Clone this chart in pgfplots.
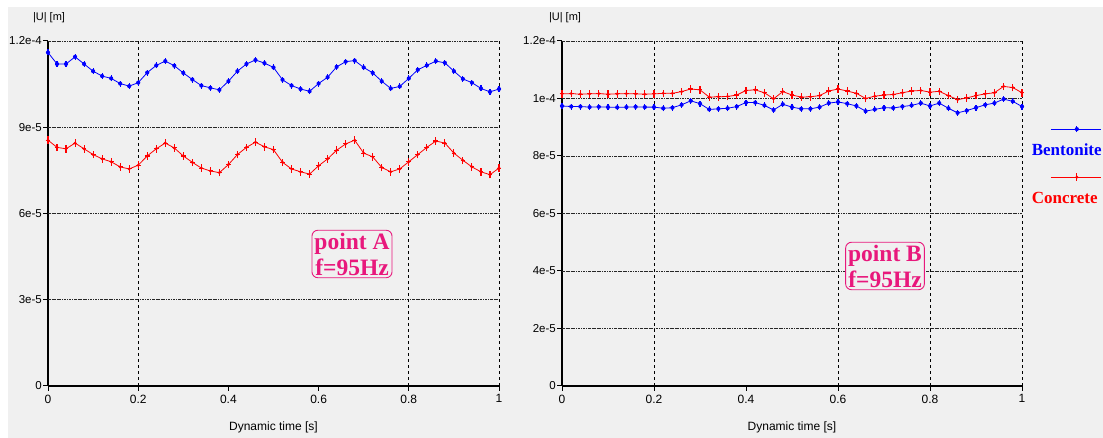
\documentclass[border=0pt]{standalone}
\usepackage{pgfplots}
\usepackage{pgfplotstable}
\pgfplotsset{compat=1.18}
\usepackage{fontspec}
\setmainfont{Liberation Sans}
\newfontfamily\lserif{Liberation Serif}
\definecolor{bgc}{RGB}{240,240,240}
\definecolor{pinkc}{RGB}{232,24,124}

\pgfdeclareplotmark{bmk}{%
  \pgfpathcircle{\pgfpointorigin}{2.1pt}\pgfusepathqfill
  \pgfsetlinewidth{1.1pt}%
  \pgfpathmoveto{\pgfpoint{0pt}{-3pt}}\pgfpathlineto{\pgfpoint{0pt}{3pt}}\pgfusepathqstroke}
\pgfdeclareplotmark{rmk}{%
  \pgfpathcircle{\pgfpointorigin}{1.6pt}\pgfusepathqfill
  \pgfsetlinewidth{1.1pt}%
  \pgfpathmoveto{\pgfpoint{0pt}{-3.8pt}}\pgfpathlineto{\pgfpoint{0pt}{3.8pt}}%
  \pgfpathmoveto{\pgfpoint{-2.4pt}{0pt}}\pgfpathlineto{\pgfpoint{2.4pt}{0pt}}\pgfusepathqstroke}

% values in units of 1e-5 m
\pgfplotstableread{
t b r
0.00 11.60 8.55
0.02 11.20 8.30
0.04 11.20 8.25
0.06 11.45 8.45
0.08 11.20 8.25
0.10 10.95 8.05
0.12 10.78 7.90
0.14 10.70 7.80
0.16 10.52 7.62
0.18 10.43 7.55
0.20 10.55 7.68
0.22 10.90 8.00
0.24 11.15 8.25
0.26 11.30 8.45
0.28 11.14 8.28
0.30 10.89 8.00
0.32 10.66 7.78
0.34 10.45 7.58
0.36 10.37 7.48
0.38 10.30 7.42
0.40 10.60 7.70
0.42 10.95 8.05
0.44 11.20 8.30
0.46 11.34 8.48
0.48 11.23 8.32
0.50 11.08 8.22
0.52 10.65 7.78
0.54 10.45 7.55
0.56 10.33 7.45
0.58 10.25 7.37
0.60 10.52 7.66
0.62 10.74 7.90
0.64 11.10 8.20
0.66 11.28 8.42
0.68 11.32 8.55
0.70 11.08 8.10
0.72 10.89 7.97
0.74 10.60 7.60
0.76 10.35 7.45
0.78 10.42 7.55
0.80 10.70 7.80
0.82 11.00 8.05
0.84 11.15 8.30
0.86 11.30 8.52
0.88 11.24 8.45
0.90 10.95 8.10
0.92 10.68 7.85
0.94 10.55 7.62
0.96 10.35 7.45
0.98 10.23 7.35
1.00 10.33 7.58
}\dataA

\pgfplotstableread{
t b r
0.00 9.74 10.16
0.02 9.72 10.17
0.04 9.72 10.15
0.06 9.70 10.16
0.08 9.71 10.17
0.10 9.70 10.15
0.12 9.69 10.16
0.14 9.70 10.17
0.16 9.71 10.16
0.18 9.70 10.15
0.20 9.70 10.16
0.22 9.66 10.18
0.24 9.68 10.18
0.26 9.78 10.24
0.28 9.92 10.33
0.30 9.82 10.30
0.32 9.62 10.05
0.34 9.64 10.06
0.36 9.66 10.07
0.38 9.72 10.12
0.40 9.86 10.28
0.42 9.86 10.30
0.44 9.76 10.20
0.46 9.60 9.99
0.48 9.80 10.24
0.50 9.70 10.12
0.52 9.64 10.05
0.54 9.64 10.06
0.56 9.70 10.10
0.58 9.84 10.26
0.60 9.88 10.33
0.62 9.82 10.26
0.64 9.74 10.18
0.66 9.56 10.00
0.68 9.62 10.08
0.70 9.68 10.12
0.72 9.67 10.14
0.74 9.72 10.20
0.76 9.76 10.26
0.78 9.84 10.28
0.80 9.74 10.22
0.82 9.84 10.25
0.84 9.66 10.10
0.86 9.50 9.96
0.88 9.58 10.02
0.90 9.68 10.10
0.92 9.78 10.16
0.94 9.84 10.20
0.96 9.98 10.42
0.98 9.90 10.38
1.00 9.72 10.20
}\dataB

\tikzset{
  hgrid/.style={line width=0.7pt, black!85, dash pattern=on 2.5pt off 1pt on 0.7pt off 1pt},
  vgrid/.style={line width=0.9pt, black, dash pattern=on 3pt off 3pt},
}
\pgfplotsset{
  myaxis/.style={
    scale only axis, height=345pt,
    xmin=0, xmax=1, ymin=0, ymax=12,
    axis x line=bottom, axis y line=left,
    axis line style={-, line width=1.6pt, black},
    xtick={0,0.2,0.4,0.6,0.8,1},
    xticklabels={0,0.2,0.4,0.6,0.8,1},
    tick align=outside, major tick length=5pt,
    tick style={line width=1pt, black},
    minor tick num=0,
    clip=false,
    xticklabel style={font=\fontsize{12}{14}\selectfont, inner sep=3.5pt},
    yticklabel style={font=\fontsize{11.5}{13}\selectfont, inner sep=1pt},
    xlabel={Dynamic time [s]},
    xlabel style={font=\fontsize{12}{14}\selectfont, at={(axis description cs:0.5,0)}, anchor=center, yshift=-41pt},
  },
  bser/.style={blue, line width=0.8pt, mark=bmk, mark options={fill=blue, draw=blue, solid}},
  rser/.style={red, line width=0.8pt, mark=rmk, mark options={fill=red, draw=red, solid}},
}

\begin{document}
\begin{tikzpicture}
\path[use as bounding box] (0pt,0pt) rectangle (1103pt,438pt);
\fill[white] (0pt,0pt) rectangle (1103pt,438pt);
\fill[bgc] (8pt,0pt) rectangle (1103pt,431pt);

% left panel
\begin{axis}[myaxis, width=451pt, at={(48pt,52pt)}, anchor=south west,
  ytick={0,3,6,9,12}, yticklabels={0,3e-5,6e-5,9e-5,1.2e-4}]
  \draw[hgrid] (axis cs:0,3) -- (axis cs:1,3);
  \draw[hgrid] (axis cs:0,6) -- (axis cs:1,6);
  \draw[hgrid] (axis cs:0,9) -- (axis cs:1,9);
  \draw[hgrid] (axis cs:0,12) -- (axis cs:1,12);
  \draw[vgrid] (axis cs:0.2,0) -- (axis cs:0.2,12);
  \draw[vgrid] (axis cs:0.8,0) -- (axis cs:0.8,12);
  \draw[vgrid] (axis cs:1,0) -- (axis cs:1,12);
  \addplot[bser] table[x=t,y=b] {\dataA};
  \addplot[rser] table[x=t,y=r] {\dataA};
\end{axis}

% right panel
\begin{axis}[myaxis, width=460pt, at={(562pt,52pt)}, anchor=south west,
  ytick={0,2,4,6,8,10,12}, yticklabels={0,2e-5,4e-5,6e-5,8e-5,1e-4,1.2e-4},
  legend style={draw=none, fill=none, inner sep=0pt, outer sep=0pt,
    row sep=35pt, column sep=0pt,
    at={(axis description cs:1.0213,0.703)}, anchor=north west,
    nodes={inner sep=0pt},
    font={\fontsize{17}{20}\selectfont\lserif\bfseries}},
  legend cell align=left,
  legend image code/.code={%
    \draw[overlay,#1,mark=none] (19pt,21pt) -- (69pt,21pt);
    \draw[overlay,#1,only marks] plot coordinates {(45pt,21pt)};}]
  \draw[hgrid] (axis cs:0,2) -- (axis cs:1,2);
  \draw[hgrid] (axis cs:0,4) -- (axis cs:1,4);
  \draw[hgrid] (axis cs:0,6) -- (axis cs:1,6);
  \draw[hgrid] (axis cs:0,8) -- (axis cs:1,8);
  \draw[hgrid] (axis cs:0,10) -- (axis cs:1,10);
  \draw[hgrid] (axis cs:0,12) -- (axis cs:1,12);
  \draw[vgrid] (axis cs:0.2,0) -- (axis cs:0.2,12);
  \draw[vgrid] (axis cs:0.6,0) -- (axis cs:0.6,12);
  \draw[vgrid] (axis cs:0.8,0) -- (axis cs:0.8,12);
  \draw[vgrid] (axis cs:1,0) -- (axis cs:1,12);
  \addplot[bser] table[x=t,y=b] {\dataB};
  \addlegendentry{\textcolor{blue}{Bentonite}}
  \addplot[rser] table[x=t,y=r] {\dataB};
  \addlegendentry{\textcolor{red}{Concrete}}
\end{axis}

% axis quantity labels
\node[font=\fontsize{11}{13}\selectfont] at (49pt,420pt) {|U| [m]};
\node[font=\fontsize{11}{13}\selectfont] at (565pt,420pt) {|U| [m]};

% annotations
\node[draw=pinkc, fill=bgc, rounded corners=6pt, line width=0.9pt, text=pinkc,
  font={\fontsize{23.5}{26}\selectfont\lserif\bfseries}, align=center, inner sep=2.5pt]
  at (352pt,184pt) {point A\\f=95Hz};
\node[draw=pinkc, fill=bgc, rounded corners=6pt, line width=0.9pt, text=pinkc,
  font={\fontsize{23.5}{26}\selectfont\lserif\bfseries}, align=center, inner sep=2.5pt]
  at (885pt,172pt) {point B\\f=95Hz};
\end{tikzpicture}
\end{document}
